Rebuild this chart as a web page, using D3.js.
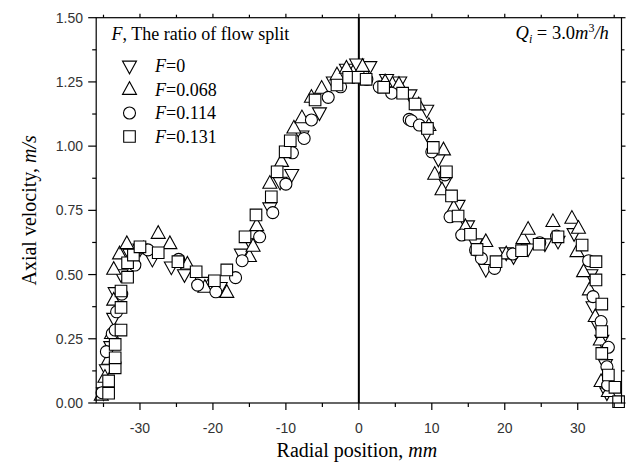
<!DOCTYPE html>
<html><head><meta charset="utf-8">
<script src="https://cdn.jsdelivr.net/npm/d3@7"></script>
<style>body{margin:0;background:#fff}svg{display:block}</style>
</head><body><svg id="c" width="633" height="464"></svg>
<script>
// ---- data ----
const xTicks = [-30, -20, -10, 0, 10, 20, 30];
const yTicks = [0, 0.25, 0.5, 0.75, 1.0, 1.25, 1.5];
const seriesNames = ["0", "0.068", "0.114", "0.131"];
const symbolTypes = ["triDown", "triUp", "circle", "square"];

const f0x = [-35.0,-34.6,-34.0,-33.6,-33.4,-32.6,-31.4,-30.0,-28.3,-25.7,-23.9,-21.5,-19.0,-16.1,-14.8,-12.2,-10.8,-9.2,-7.8,-5.4,-3.5,-1.7,-0.3,1.5,3.8,5.6,7.0,9.3,9.3,10.9,11.8,13.6,14.9,16.0,17.4,20.2,21.2,23.2,25.5,27.3,29.5,31.8,32.1,32.8,33.3,33.8,34.0];
const f0y = [0.04,0.13,0.22,0.33,0.43,0.50,0.58,0.60,0.56,0.53,0.50,0.47,0.45,0.58,0.62,0.76,0.86,0.89,1.04,1.13,1.25,1.30,1.32,1.31,1.26,1.25,1.20,1.14,1.05,0.95,0.86,0.77,0.69,0.62,0.52,0.585,0.57,0.60,0.62,0.63,0.66,0.50,0.375,0.30,0.245,0.15,0.04];

const f1x = [-35.3,-34.8,-34.3,-33.9,-33.6,-33.6,-32.8,-31.8,-29.5,-27.5,-25.9,-23.5,-21.1,-18.1,-15.0,-14.5,-14.0,-12.2,-10.6,-8.9,-7.8,-6.5,-5.1,-3.0,-1.7,0.5,3.6,5.5,8.2,9.6,10.4,11.6,11.4,13.0,14.6,17.4,20.2,22.5,23.2,26.6,29.2,30.1,29.9,30.8,31.6,32.4,33.1,33.2,34.2];
const f1y = [0.03,0.10,0.17,0.27,0.40,0.52,0.58,0.62,0.60,0.66,0.62,0.54,0.45,0.43,0.57,0.61,0.69,0.855,0.94,1.07,1.11,1.19,1.225,1.277,1.303,1.31,1.25,1.24,1.16,1.08,0.89,0.985,0.83,0.76,0.686,0.628,0.58,0.64,0.676,0.706,0.719,0.68,0.589,0.511,0.44,0.336,0.245,0.083,0.044];

const f2x = [-35.2,-34.6,-33.8,-33.4,-33.2,-32.5,-30.7,-28.9,-24.7,-22.1,-19.6,-16.9,-16.0,-13.6,-11.8,-10.0,-9.1,-7.5,-6.5,-4.2,-2.5,1.1,2.8,4.5,6.9,7.2,8.3,10.0,11.8,12.5,14.1,16.0,16.8,18.6,21.1,24.8,27.1,31.5,32.1,33.2,34.2,34.0,34.1];
const f2y = [0.04,0.20,0.27,0.284,0.355,0.424,0.537,0.596,0.559,0.459,0.433,0.488,0.554,0.647,0.741,0.852,0.974,1.03,1.102,1.19,1.231,1.26,1.231,1.206,1.104,1.099,1.082,0.978,0.888,0.725,0.654,0.596,0.563,0.524,0.58,0.624,0.65,0.554,0.414,0.317,0.217,0.141,0.07];

const f3x = [-34.3,-34.3,-33.4,-33.4,-33.4,-32.6,-32.6,-32.6,-31.7,-31.7,-30.9,-30.0,-27.5,-24.8,-22.3,-19.8,-18.1,-15.6,-14.1,-12.0,-11.2,-10.1,-9.4,-6.0,-3.0,-1.4,-0.1,1.0,3.4,6.0,7.7,9.4,10.2,12.0,12.7,13.6,15.3,16.2,18.8,22.3,24.7,27.3,30.6,32.5,32.5,33.3,33.3,33.3,34.2,35.1,35.6];
const f3y = [0.038,0.086,0.137,0.176,0.228,0.284,0.372,0.436,0.49,0.546,0.576,0.608,0.585,0.55,0.511,0.476,0.518,0.647,0.732,0.803,0.9,0.978,1.021,1.18,1.238,1.268,1.268,1.26,1.229,1.206,1.164,1.069,0.995,0.9,0.806,0.728,0.657,0.598,0.55,0.593,0.618,0.647,0.615,0.55,0.479,0.385,0.278,0.193,0.109,0.061,0.005];

const seriesX = [f0x, f1x, f2x, f3x];
const seriesY = [f0y, f1y, f2y, f3y];

// ---- layout ----
const svg = d3.select("#c");
const L = 96.2, R = 621.5, T = 17.7, B = 403;
const x = d3.scaleLinear().domain([-36, 36]).range([L, R]);
const y = d3.scaleLinear().domain([0, 1.5]).range([B, T]);

const serif = "'Liberation Serif','Times New Roman',serif";
const sans = "'Liberation Sans',Arial,sans-serif";

function drawSym(g, type, cx, cy) {
  const s = g.append("path").attr("fill", "#fff").attr("stroke", "#000").attr("stroke-width", 1.1);
  let d;
  if (type === "triDown") { const h = 6.5; d = `M${cx-7},${cy-h*0.75}L${cx+7},${cy-h*0.75}L${cx},${cy+h*1.2}Z`; }
  else if (type === "triUp") { const h = 6.5; d = `M${cx-7},${cy+h*0.75}L${cx+7},${cy+h*0.75}L${cx},${cy-h*1.2}Z`; }
  else if (type === "circle") { const r = 6; d = `M${cx-r},${cy}A${r},${r} 0 1,0 ${cx+r},${cy}A${r},${r} 0 1,0 ${cx-r},${cy}Z`; }
  else { const a = 5.8; d = `M${cx-a},${cy-a}H${cx+a}V${cy+a}H${cx-a}Z`; }
  s.attr("d", d);
}

// zero line
svg.append("line").attr("x1", x(0)).attr("x2", x(0)).attr("y1", T).attr("y2", B)
  .attr("stroke", "#000").attr("stroke-width", 2);

// points
const pts = svg.append("g");
seriesX.forEach((xs, i) => {
  xs.forEach((v, j) => drawSym(pts, symbolTypes[i], x(v), y(seriesY[i][j])));
});

// axes
const ax = svg.append("g").attr("fill", "none").attr("stroke", "#000").attr("stroke-width", 1.2);
ax.append("rect").attr("x", L).attr("y", T).attr("width", R - L).attr("height", B - T);

const xMinor = d3.range(-35, 36, 5);
const yMinor = d3.range(0, 1.5001, 0.125);
xMinor.forEach(v => {
  const maj = v % 10 === 0;
  ax.append("line").attr("x1", x(v)).attr("x2", x(v)).attr("y1", B).attr("y2", B + (maj ? 7 : 4));
  ax.append("line").attr("x1", x(v)).attr("x2", x(v)).attr("y1", T).attr("y2", T - (maj ? 4 : 3));
});
yMinor.forEach(v => {
  const maj = Math.abs(v / 0.25 - Math.round(v / 0.25)) < 1e-6;
  ax.append("line").attr("x1", L).attr("x2", L - (maj ? 8 : 4)).attr("y1", y(v)).attr("y2", y(v));
  ax.append("line").attr("x1", R).attr("x2", R + (maj ? 4 : 3)).attr("y1", y(v)).attr("y2", y(v));
});

// tick labels
svg.append("g").selectAll("text").data(xTicks).join("text")
  .attr("x", d => x(d)).attr("y", 433).attr("text-anchor", "middle")
  .attr("font-family", sans).attr("font-size", 14).attr("fill", "#333")
  .text(d => d);
svg.append("g").selectAll("text").data(yTicks).join("text")
  .attr("x", 83).attr("y", d => y(d) + 5).attr("text-anchor", "end")
  .attr("font-family", sans).attr("font-size", 14).attr("fill", "#333")
  .text(d => d.toFixed(2));

// axis titles
const xt = svg.append("text").attr("x", (L + R) / 2 - 2).attr("y", 457).attr("text-anchor", "middle")
  .attr("font-family", serif).attr("font-size", 20).attr("fill", "#000");
xt.append("tspan").text("Radial position, ");
xt.append("tspan").attr("font-style", "italic").text("mm");

const yt = svg.append("text").attr("transform", `translate(36,${(T + B) / 2}) rotate(-90)`).attr("text-anchor", "middle")
  .attr("font-family", serif).attr("font-size", 20).attr("fill", "#000");
yt.append("tspan").text("Axial velocity, ");
yt.append("tspan").attr("font-style", "italic").text("m/s");

// legend
const lg = svg.append("g");
const lt = lg.append("text").attr("x", 111.5).attr("y", 40).attr("font-family", serif).attr("font-size", 18);
lt.append("tspan").attr("font-style", "italic").text("F");
lt.append("tspan").text(", The ratio of flow split");
seriesNames.forEach((n, i) => {
  const cy = 66 + i * 23.5;
  drawSym(lg, symbolTypes[i], 129.5, cy);
  const t = lg.append("text").attr("x", 155).attr("y", cy + 6).attr("font-family", serif).attr("font-size", 18);
  t.append("tspan").attr("font-style", "italic").text("F");
  t.append("tspan").text("=" + n);
});

// annotation
const q = svg.append("text").attr("x", 515.5).attr("y", 38.5).attr("font-family", serif).attr("font-size", 18.5);
q.append("tspan").attr("font-style", "italic").text("Q");
q.append("tspan").attr("font-style", "italic").attr("font-size", 12).attr("dy", 4).text("i");
q.append("tspan").attr("dy", -4).text(" = 3.0");
q.append("tspan").attr("font-style", "italic").text("m");
q.append("tspan").attr("font-size", 12).attr("dy", -7).text("3");
q.append("tspan").attr("dy", 7).attr("font-style", "italic").text("/h");
</script></body></html>
